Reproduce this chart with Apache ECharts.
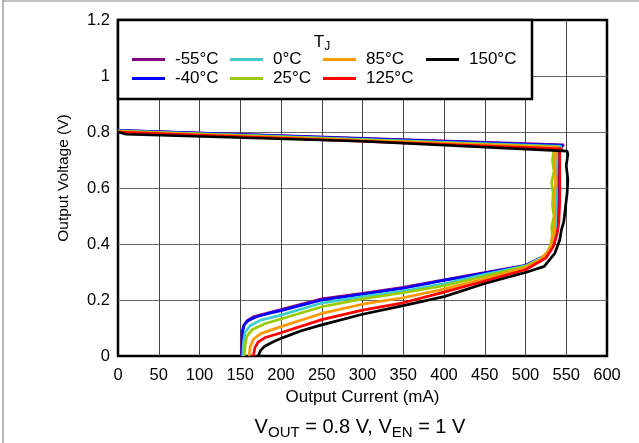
<!DOCTYPE html>
<html>
<head>
<meta charset="utf-8">
<script src="https://cdn.jsdelivr.net/npm/echarts@6/dist/echarts.min.js"></script>
<style>
html, body { margin: 0; padding: 0; background: #fff; }
#chart { width: 639px; height: 443px; }
</style>
</head>
<body>
<div id="chart"></div>
<script>
var FONT = '"Liberation Sans", Arial, Helvetica, sans-serif';

// legend names / colours, same order
var temps = ['-55°C', '-40°C', '0°C', '25°C', '85°C', '125°C', '150°C'];
var colors = ['#800080', '#0000ff', '#3ecccc', '#99cc00', '#ff9900', '#ff0000', '#000000'];

// each curve traced from no load, along the top, down the limit, back to the foldback point
var cur_m55 = [0, 547, 541, 539, 539, 538, 534, 525, 500, 450, 400, 350, 300, 250, 200, 181, 166, 158, 154, 152, 151.5];
var vol_m55 = [0.806, 0.754, 0.74, 0.65, 0.55, 0.45, 0.40, 0.36, 0.324, 0.298, 0.272, 0.245, 0.224, 0.204, 0.166, 0.152, 0.14, 0.125, 0.108, 0.08, 0];

var cur_m40 = [0, 545, 541, 540, 540, 539, 535, 526, 500, 450, 400, 350, 300, 250, 200, 185, 170, 160, 155, 153, 152];
var vol_m40 = [0.806, 0.752, 0.74, 0.65, 0.55, 0.45, 0.40, 0.36, 0.323, 0.296, 0.27, 0.242, 0.22, 0.2, 0.162, 0.152, 0.14, 0.127, 0.112, 0.09, 0];

var cur_0 = [0, 544, 539, 538, 538, 537, 533, 525, 500, 450, 400, 350, 300, 250, 200, 175, 162, 156, 154, 153];
var vol_0 = [0.804, 0.749, 0.735, 0.65, 0.55, 0.45, 0.40, 0.36, 0.322, 0.292, 0.258, 0.232, 0.212, 0.189, 0.146, 0.128, 0.108, 0.085, 0.05, 0];

var cur_25 = [0, 540, 535, 533, 535, 532, 534, 533, 535, 532, 533, 531, 527, 518, 500, 450, 400, 350, 300, 250, 200, 180, 165, 158, 156, 155];
var vol_25 = [0.803, 0.747, 0.735, 0.70, 0.66, 0.62, 0.58, 0.54, 0.50, 0.46, 0.43, 0.40, 0.37, 0.345, 0.32, 0.285, 0.251, 0.226, 0.204, 0.176, 0.132, 0.115, 0.095, 0.07, 0.04, 0];

var cur_85 = [0, 541, 537, 536, 537, 535, 536, 535, 533, 528, 518, 500, 450, 400, 350, 300, 250, 200, 175, 166, 162, 161];
var vol_85 = [0.801, 0.744, 0.73, 0.68, 0.62, 0.56, 0.50, 0.45, 0.41, 0.375, 0.345, 0.315, 0.276, 0.239, 0.208, 0.185, 0.152, 0.105, 0.08, 0.06, 0.03, 0];

var cur_125 = [0, 545, 542, 542, 542, 541, 539, 534, 525, 500, 450, 400, 350, 300, 250, 200, 180, 172, 168, 166];
var vol_125 = [0.800, 0.740, 0.73, 0.65, 0.55, 0.48, 0.44, 0.39, 0.35, 0.308, 0.268, 0.228, 0.19, 0.164, 0.13, 0.083, 0.065, 0.05, 0.03, 0];

var cur_150 = [0, 10, 300, 551, 552, 550, 552, 551, 549, 547, 544, 542, 536, 523, 500, 450, 400, 350, 300, 250, 225, 200, 190, 180, 175, 172];
var vol_150 = [0.800, 0.792, 0.767, 0.732, 0.72, 0.68, 0.63, 0.58, 0.53, 0.48, 0.45, 0.414, 0.367, 0.32, 0.298, 0.259, 0.212, 0.18, 0.149, 0.111, 0.09, 0.063, 0.05, 0.035, 0.02, 0];

var currents = [cur_m55, cur_m40, cur_0, cur_25, cur_85, cur_125, cur_150];
var voltages = [vol_m55, vol_m40, vol_0, vol_25, vol_85, vol_125, vol_150];

// legend columns as in the figure
var legendCols = [['-55°C', '-40°C'], ['0°C', '25°C'], ['85°C', '125°C'], ['150°C']];
var legendLeft = [132, 230, 323, 426];

var chart = echarts.init(document.getElementById('chart'));

var series = temps.map(function (t, k) {
    return {
        name: t,
        type: 'line',
        symbol: 'none',
        showSymbol: false,
        animation: false,
        color: colors[k],
        lineStyle: { width: 2.7, color: colors[k] },
        data: currents[k].map(function (x, j) { return [x, voltages[k][j]]; })
    };
});

var legends = legendCols.map(function (col, c) {
    return {
        data: col,
        orient: 'vertical',
        left: legendLeft[c],
        top: 51,
        padding: 0,
        itemGap: 2,
        icon: 'rect',
        itemWidth: 33,
        itemHeight: 3,
        selectedMode: false,
        z: 20,
        textStyle: { fontSize: 17, fontFamily: FONT, color: '#000', lineHeight: 17, padding: [0, 0, 0, 5] }
    };
});

chart.setOption({
    animation: false,
    backgroundColor: '#fff',
    grid: {
        left: 118, right: 32, top: 20, bottom: 87,
        show: true, borderColor: '#000', borderWidth: 2.5, backgroundColor: 'transparent'
    },
    legend: legends,
    xAxis: {
        type: 'value', min: 0, max: 600, interval: 50,
        name: 'Output Current (mA)', nameLocation: 'middle', nameGap: 31,
        nameTextStyle: { fontSize: 17, fontFamily: FONT, color: '#000' },
        axisLine: { show: false },
        axisTick: { show: false },
        axisLabel: { fontSize: 16.5, fontFamily: FONT, color: '#000', margin: 11 },
        splitLine: { show: true, showMinLine: false, showMaxLine: false, lineStyle: { color: '#444', width: 1 } }
    },
    yAxis: {
        type: 'value', min: 0, max: 1.2, interval: 0.2,
        name: 'Output Voltage (V)', nameLocation: 'middle', nameGap: 46,
        nameTextStyle: { fontSize: 15.5, fontFamily: FONT, color: '#000', padding: [0, 0, 0, 20] },
        axisLine: { show: false },
        axisTick: { show: false },
        axisLabel: {
            fontSize: 16.5, fontFamily: FONT, color: '#000', margin: 8,
            formatter: function (v) { return String(+v.toFixed(1)); }
        },
        splitLine: { show: true, showMinLine: false, showMaxLine: false, lineStyle: { color: '#666', width: 1 } }
    },
    graphic: [
        { type: 'line', shape: { x1: 3, y1: 0, x2: 3, y2: 443 }, style: { stroke: '#888', lineWidth: 1.2 } },
        { type: 'line', shape: { x1: 3, y1: 1, x2: 639, y2: 1 }, style: { stroke: '#888', lineWidth: 1.2 } },
        {
            type: 'rect', z: 10,
            shape: { x: 118, y: 20, width: 414, height: 79 },
            style: { fill: '#fff', stroke: '#000', lineWidth: 2.5 }
        },
        {
            type: 'text', z: 11, x: 322, y: 42,
            style: {
                text: '{m|T}{s|J}',
                align: 'center', verticalAlign: 'middle', fill: '#000',
                rich: {
                    m: { fontSize: 17, fontFamily: FONT, verticalAlign: 'middle', lineHeight: 22 },
                    s: { fontSize: 12, fontFamily: FONT, verticalAlign: 'bottom', lineHeight: 22 }
                }
            }
        },
        {
            type: 'text', z: 11, x: 360, y: 427,
            style: {
                text: '{m|V}{s|OUT}{m| = 0.8 V, V}{s|EN}{m| = 1 V}',
                align: 'center', verticalAlign: 'middle', fill: '#000',
                rich: {
                    m: { fontSize: 20, fontFamily: FONT, verticalAlign: 'middle', lineHeight: 26 },
                    s: { fontSize: 15, fontFamily: FONT, verticalAlign: 'bottom', lineHeight: 26 }
                }
            }
        }
    ],
    series: series
});
</script>
</body>
</html>
